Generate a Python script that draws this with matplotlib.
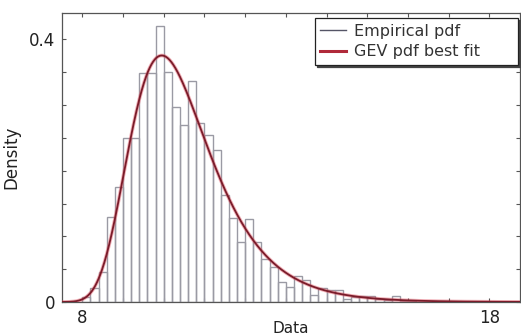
import numpy as np
import matplotlib
matplotlib.use("Agg")
import matplotlib.pyplot as plt
from matplotlib.ticker import FixedLocator, FixedFormatter

# Histogram of the sample (density per 0.2-wide bin, first bin starts at 8.0)
bin_start = 8.0
bin_width = 0.2
density = [0.007, 0.021, 0.046, 0.130, 0.175, 0.249, 0.249, 0.348, 0.348, 0.421,
           0.350, 0.297, 0.270, 0.336, 0.272, 0.255, 0.231, 0.163, 0.128, 0.092,
           0.126, 0.092, 0.066, 0.054, 0.031, 0.023, 0.040, 0.033, 0.010, 0.021,
           0.018, 0.018, 0.005, 0.008, 0.009, 0.009, 0.005, 0.003, 0.009, 0.002,
           0.002]

# Fitted GEV parameters (shape k, scale sigma, location mu)
gev_k = 0.01
gev_sigma = 0.98
gev_mu = 9.96

x_ticks = [8, 9, 10, 11, 12, 13, 14, 15, 16, 17, 18]
x_ticklabels = ["8", "", "", "", "", "", "", "", "", "", "18"]
y_ticks = [0, 0.05, 0.1, 0.15, 0.2, 0.25, 0.3, 0.35, 0.4]
y_ticklabels = ["0", "", "", "", "", "", "", "", "0.4"]


def gev_pdf(x, k, sigma, mu):
    z = 1.0 + k * (x - mu) / sigma
    out = np.zeros_like(x)
    ok = z > 0
    t = z[ok] ** (-1.0 / k)
    out[ok] = (1.0 / sigma) * t ** (k + 1.0) * np.exp(-t)
    return out


plt.rcParams["font.family"] = ["DejaVu Sans"]

fig = plt.figure(figsize=(5.21, 3.35), dpi=100)
ax = fig.add_axes([0.119, 0.0985, 0.879, 0.8625])

lefts = bin_start + bin_width * np.arange(len(density))
ax.bar(lefts, density, width=bin_width, align="edge", fill=False,
       edgecolor="#9a9aa4", linewidth=1.0, label="Empirical pdf", zorder=2)

xs = np.linspace(7.5, 18.75, 800)
ax.plot(xs, gev_pdf(xs, gev_k, gev_sigma, gev_mu), color="#e05060",
        linewidth=2.6, alpha=0.45, zorder=3)
ax.plot(xs, gev_pdf(xs, gev_k, gev_sigma, gev_mu), color="#7a1c2a",
        linewidth=1.3, zorder=4)

ax.set_xlim(7.5, 18.75)
ax.set_ylim(0, 0.44)

ax.xaxis.set_major_locator(FixedLocator(x_ticks))
ax.xaxis.set_major_formatter(FixedFormatter(x_ticklabels))
ax.yaxis.set_major_locator(FixedLocator(y_ticks))
ax.yaxis.set_major_formatter(FixedFormatter(y_ticklabels))
ax.tick_params(direction="in", top=True, right=True, length=3, width=0.8,
               color="#555555", labelsize=12, labelcolor="#222222", pad=5)

for s in ax.spines.values():
    s.set_color("#555555")
    s.set_linewidth(0.9)

ax.set_xlabel("Data", fontsize=11, color="#222222", labelpad=-4)
ax.set_ylabel("Density", fontsize=12, color="#222222", labelpad=6)

# Legend entries
h_emp = plt.Line2D([], [], color="#555566", linewidth=1.0)
h_gev = plt.Line2D([], [], color="#b02a3a", linewidth=2.2)
leg = ax.legend([h_emp, h_gev], ["Empirical pdf", "GEV pdf best fit"],
                loc="upper left", bbox_to_anchor=(0.552, 0.983, 0.444, 0.0),
                mode="expand", fontsize=11.5, frameon=True, fancybox=False,
                edgecolor="#222222", handlelength=1.6, handletextpad=0.5,
                borderpad=0.35, labelspacing=0.35, borderaxespad=0.0,
                labelcolor="#333333",
                shadow={"ox": 1.5, "oy": -1.5, "color": "#444444", "alpha": 1})
leg.get_frame().set_linewidth(0.9)
leg.set_zorder(10)

fig.savefig("out.png", dpi=100, facecolor="white")
